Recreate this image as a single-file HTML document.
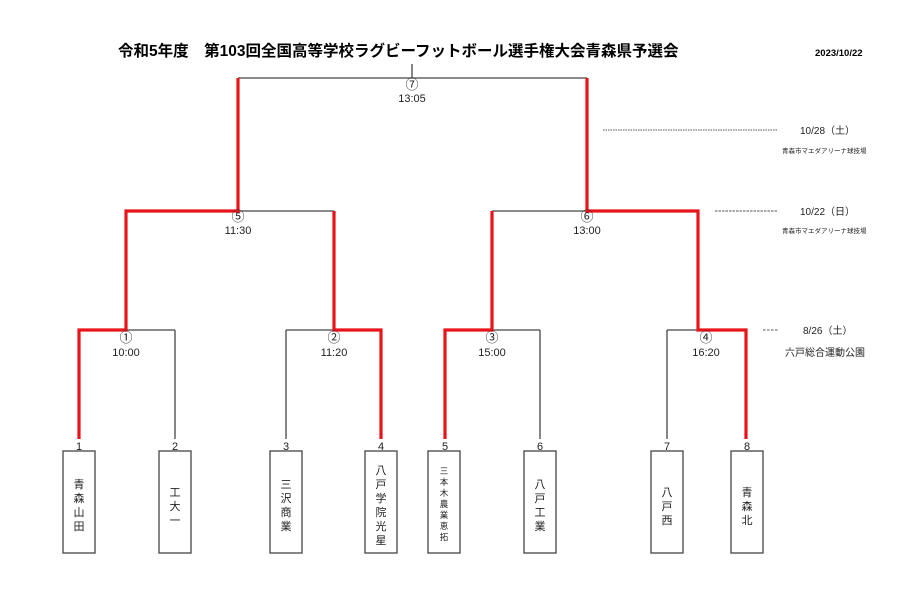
<!DOCTYPE html>
<html><head><meta charset="utf-8"><style>
html,body{margin:0;padding:0;background:#fff;}
svg{display:block;font-family:"Liberation Sans","Noto Sans CJK JP",sans-serif;}
</style></head><body>
<svg width="918" height="599" viewBox="0 0 918 599" xmlns="http://www.w3.org/2000/svg">
<rect width="918" height="599" fill="#fff"/>
<text x="118" y="56" font-size="15.5" font-weight="bold" fill="#000">令和5年度　第103回全国高等学校ラグビーフットボール選手権大会青森県予選会</text>
<text x="815" y="56" font-size="9.5" font-weight="bold" fill="#000">2023/10/22</text>

<g fill="none" stroke="#444" stroke-width="1.3">
<line x1="412" y1="64" x2="412" y2="78"/>
<line x1="238" y1="78" x2="587" y2="78"/>
<line x1="238" y1="211" x2="334" y2="211"/>
<line x1="492" y1="211" x2="587" y2="211"/>
<line x1="126" y1="330" x2="175" y2="330"/>
<line x1="175" y1="330" x2="175" y2="439"/>
<line x1="286" y1="330" x2="334" y2="330"/>
<line x1="286" y1="330" x2="286" y2="439"/>
<line x1="492" y1="330" x2="540" y2="330"/>
<line x1="540" y1="330" x2="540" y2="439"/>
<line x1="667" y1="330" x2="698" y2="330"/>
<line x1="667" y1="330" x2="667" y2="439"/>
</g>
<g fill="none" stroke="#e8141c" stroke-width="3.2" stroke-linejoin="miter">
<polyline points="238,78 238,211 126,211 126,330 79,330 79,439"/>
<polyline points="587,78 587,211 698,211 698,330 746,330 746,439"/>
<polyline points="334,211 334,330 381,330 381,439"/>
<polyline points="492,211 492,330 445,330 445,439"/>
</g>

<g font-size="13" fill="#222" text-anchor="middle">
<text x="412" y="89">⑦</text>
<text x="238" y="221">⑤</text>
<text x="587" y="221">⑥</text>
<text x="126" y="342">①</text>
<text x="334" y="342">②</text>
<text x="492" y="342">③</text>
<text x="706" y="342">④</text>
</g>
<g font-size="11" fill="#222" text-anchor="middle">
<text x="412" y="102">13:05</text>
<text x="238" y="234">11:30</text>
<text x="587" y="234">13:00</text>
<text x="126" y="356">10:00</text>
<text x="334" y="356">11:20</text>
<text x="492" y="356">15:00</text>
<text x="706" y="356">16:20</text>
<text x="79" y="450">1</text><text x="175" y="450">2</text>
<text x="286" y="450">3</text><text x="381" y="450">4</text>
<text x="445" y="450">5</text><text x="540" y="450">6</text>
<text x="667" y="450">7</text><text x="747" y="450">8</text>
</g>

<g fill="#fff" stroke="#444" stroke-width="1.3">
<rect x="63" y="451" width="32" height="102"/>
<rect x="159" y="451" width="32" height="102"/>
<rect x="270" y="451" width="32" height="102"/>
<rect x="365" y="451" width="32" height="102"/>
<rect x="428" y="451" width="32" height="102"/>
<rect x="524" y="451" width="32" height="102"/>
<rect x="651" y="451" width="32" height="102"/>
<rect x="731" y="451" width="32" height="102"/>
</g>
<g font-size="11" fill="#222" text-anchor="middle">
<text x="79" y="488">青</text><text x="79" y="502">森</text><text x="79" y="516">山</text><text x="79" y="530">田</text>
<text x="175" y="496">工</text><text x="175" y="510">大</text><text x="175" y="524">一</text>
<text x="286" y="488">三</text><text x="286" y="502">沢</text><text x="286" y="516">商</text><text x="286" y="530">業</text>
<text x="381" y="474">八</text><text x="381" y="488">戸</text><text x="381" y="502">学</text><text x="381" y="516">院</text><text x="381" y="530">光</text><text x="381" y="544">星</text>
</g>
<g font-size="8.5" fill="#222" text-anchor="middle">
<text x="444" y="474">三</text><text x="444" y="485">本</text><text x="444" y="496">木</text><text x="444" y="507">農</text><text x="444" y="518">業</text><text x="444" y="529">恵</text><text x="444" y="540">拓</text>
</g>
<g font-size="11" fill="#222" text-anchor="middle">
<text x="540" y="488">八</text><text x="540" y="502">戸</text><text x="540" y="516">工</text><text x="540" y="530">業</text>
<text x="667" y="496">八</text><text x="667" y="510">戸</text><text x="667" y="524">西</text>
<text x="747" y="496">青</text><text x="747" y="510">森</text><text x="747" y="524">北</text>
</g>

<g stroke="#555" stroke-width="0.9" fill="none">
<line x1="603" y1="130" x2="778" y2="130" stroke-dasharray="1.5,1"/>
<line x1="715" y1="211" x2="778" y2="211" stroke-dasharray="2.5,1"/>
<line x1="763" y1="330" x2="778" y2="330" stroke-dasharray="2.5,1.5"/>
</g>
<g fill="#222">
<text x="800" y="134" font-size="10">10/28（土）</text>
<text x="782" y="153" font-size="6.5">青森市マエダアリーナ球技場</text>
<text x="800" y="215" font-size="10">10/22（日）</text>
<text x="782" y="233" font-size="6.5">青森市マエダアリーナ球技場</text>
<text x="803" y="334" font-size="10">8/26（土）</text>
<text x="785" y="356" font-size="10">六戸総合運動公園</text>
</g>
</svg>
</body></html>
